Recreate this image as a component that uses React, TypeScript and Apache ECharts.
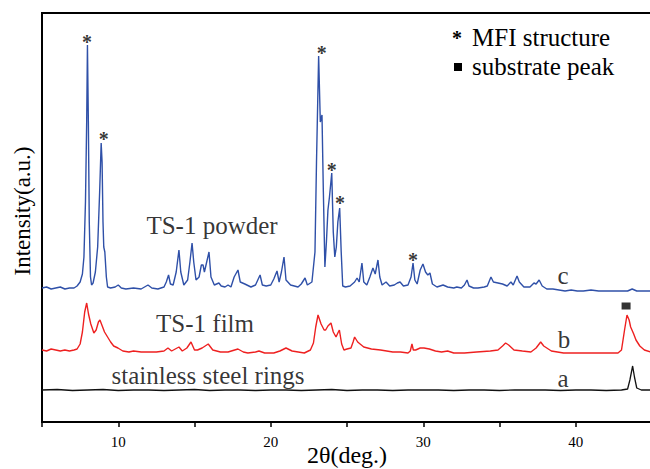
import React, { useEffect, useRef } from "react";
import * as echarts from "echarts";

const FONT = "'Liberation Serif', 'Times New Roman', serif";

// 2θ (deg.) and relative intensity (a.u., offset traces)
const powderC: [number, number][] = [
  [5.0,134],[5.3,135],[5.6,133],[5.9,134],[6.2,135],[6.5,133],[6.8,134],[7.1,134],[7.3,136],[7.5,140],[7.65,148],[7.75,165],[7.85,220],[7.93,300],[7.98,377],[8.04,300],[8.1,200],[8.18,145],[8.25,137],[8.35,139],[8.5,150],[8.65,175],[8.78,230],[8.88,279],[8.94,260],[9.0,200],[9.05,175],[9.12,170],[9.16,160],[9.22,145],[9.3,135],[9.5,134],[9.8,135],[10.0,137],[10.2,134],[10.5,133],[11.0,134],[11.5,133],[11.95,137],[12.2,134],[12.6,133],[13.0,135],[13.15,140],[13.3,147],[13.42,138],[13.6,137],[13.8,150],[13.98,172],[14.1,150],[14.3,137],[14.55,142],[14.7,160],[14.84,179],[14.95,160],[15.1,142],[15.3,145],[15.45,157],[15.56,157],[15.65,150],[15.8,160],[15.95,170],[16.08,145],[16.3,137],[16.6,139],[16.75,136],[17.0,135],[17.2,137],[17.39,135],[17.6,145],[17.85,152],[18.0,140],[18.3,138],[18.7,135],[19.0,137],[19.3,147],[19.45,137],[19.7,136],[20.0,137],[20.2,143],[20.41,151],[20.55,140],[20.7,150],[20.87,165],[21.0,142],[21.3,137],[21.79,135],[22.0,138],[22.25,144],[22.4,137],[22.7,140],[22.9,170],[23.0,260],[23.14,366],[23.25,300],[23.36,307],[23.45,230],[23.55,155],[23.65,180],[23.75,212],[23.85,225],[24.0,249],[24.1,190],[24.2,165],[24.3,175],[24.4,200],[24.52,214],[24.62,170],[24.72,136],[24.9,135],[25.2,136],[25.5,140],[25.66,144],[25.8,140],[25.98,159],[26.1,140],[26.3,137],[26.5,145],[26.7,154],[26.85,148],[27.03,162],[27.15,145],[27.3,137],[27.56,140],[27.8,136],[28.1,137],[28.3,139],[28.48,140],[28.7,136],[29.0,137],[29.2,145],[29.33,159],[29.45,142],[29.6,138],[29.8,152],[29.98,158],[30.15,150],[30.3,147],[30.44,149],[30.6,138],[30.9,135],[31.3,137],[31.6,135],[32.0,134],[32.2,135],[32.5,134],[32.7,137],[32.87,142],[33.0,136],[33.3,134],[33.59,134],[34.0,135],[34.2,136],[34.44,145],[34.6,140],[34.9,139],[35.2,138],[35.5,136],[35.75,140],[35.9,137],[36.15,146],[36.3,140],[36.6,135],[37.0,135],[37.26,139],[37.4,138],[37.6,142],[37.8,136],[38.1,133],[38.5,133],[38.9,132],[39.3,131],[39.7,132],[40.1,131],[40.5,131],[41.0,132],[41.5,131],[42.0,131],[42.5,131],[43.0,131],[43.4,131],[43.7,133],[44.0,131],[44.5,131],[45.0,131]
];

const filmB: [number, number][] = [
  [5.0,72],[5.3,71],[5.6,73],[5.9,72],[6.2,71],[6.5,72],[6.8,71],[7.1,72],[7.3,73],[7.5,78],[7.65,90],[7.8,110],[7.93,119],[8.05,108],[8.2,98],[8.4,89],[8.55,92],[8.7,100],[8.8,102],[8.95,96],[9.1,90],[9.3,85],[9.5,80],[9.7,76],[9.98,74],[10.3,71],[10.7,70],[11.0,71],[11.5,70],[12.0,70],[12.5,70],[13.0,71],[13.26,74],[13.5,71],[13.98,75],[14.2,71],[14.5,74],[14.77,80],[15.0,72],[15.2,72],[15.5,74],[15.9,78],[16.2,72],[16.7,70],[17.2,70],[17.85,73],[18.2,70],[18.5,69],[19.0,70],[19.23,71],[19.6,69],[20.2,69],[20.6,71],[21.0,74],[21.4,71],[21.8,70],[22.2,69],[22.6,72],[22.8,79],[22.95,95],[23.1,107],[23.3,98],[23.5,92],[23.6,92],[23.75,96],[23.95,99],[24.1,90],[24.28,85],[24.4,89],[24.5,92],[24.65,78],[24.8,72],[25.0,73],[25.26,74],[25.4,80],[25.5,85],[25.7,80],[26.1,75],[26.6,73],[27.2,72],[28.0,70],[28.5,70],[29.0,69],[29.15,71],[29.26,78],[29.35,72],[29.5,72],[29.8,74],[30.05,74],[30.4,73],[30.8,71],[31.2,70],[31.6,71],[32.0,69],[32.7,69],[33.5,70],[34.4,71],[34.9,72],[35.2,76],[35.4,79],[35.6,77],[35.95,72],[36.5,71],[37.06,70],[37.4,74],[37.7,80],[37.9,76],[38.4,71],[38.8,70],[39.2,69],[40.0,69],[41.0,69],[42.0,69],[42.77,69],[43.0,72],[43.2,92],[43.36,107],[43.5,102],[43.6,95],[43.8,88],[43.95,82],[44.2,76],[44.5,72],[44.9,70],[45.0,70]
];

const steelA: [number, number][] = [
  [5,32],[6,32.5],[7,31.5],[8,32],[9,32.5],[10,31.5],[11,32],[12,32],[13,31.5],[14,32],[15,32.5],[16,31.5],[17,32],[18,32],[19,31.5],[20,32],[21,32],[22,31.5],[23,32],[24,32.5],[25,31.5],[26,32],[27,32],[28,31.5],[29,32],[30,32],[31,32],[32,31.5],[33,32],[34,32],[35,31.5],[36,32],[37,32],[38,32],[39,31.5],[40,32],[41,32],[42,31.5],[43,32],[43.4,33],[43.55,42],[43.73,56],[43.85,45],[44.0,34],[44.3,32],[45,32]
];

// MFI reflections marked with asterisks
const mfiMarks: [number, number][] = [
  [7.95, 385], [9.05, 288], [23.34, 374], [24.0, 257], [24.54, 224], [29.33, 167]
];
// substrate peak marker
const substrateMarks: [number, number][] = [[43.3, 116]];

// trace labels
const traceLabels: { text: string; pos: [number, number] }[] = [
  { text: "TS-1 powder", pos: [16.15, 197] },
  { text: "TS-1 film", pos: [15.69, 99] },
  { text: "stainless steel rings", pos: [15.89, 47] },
  { text: "c", pos: [39.16, 147] },
  { text: "b", pos: [39.23, 83] },
  { text: "a", pos: [39.16, 44] },
];

const xTicks = [10, 20, 30, 40];

export default function App() {
  const ref = useRef<HTMLDivElement>(null);
  useEffect(() => {
    if (!ref.current) return;
    const chart = echarts.init(ref.current, null, { renderer: "svg" });
    const lineCommon = {
      type: "line" as const,
      showSymbol: false,
      symbol: "none",
      silent: true,
    };
    chart.setOption({
      animation: false,
      backgroundColor: "#fff",
      grid: {
        left: 42,
        top: 13,
        width: 610,
        height: 409,
        outerBoundsMode: "none",
        containLabel: false,
        show: true,
        borderColor: "#000",
        borderWidth: 2,
        backgroundColor: "transparent",
      },
      xAxis: {
        type: "value",
        min: 5,
        max: 45,
        interval: 5,
        name: "2θ(deg.)",
        nameLocation: "middle",
        nameGap: 21,
        nameMoveOverlap: false,
        nameTextStyle: { fontFamily: FONT, fontSize: 24, color: "#000" },
        axisLine: { show: true, lineStyle: { color: "#000", width: 2 } },
        axisTick: { show: true, length: 5, lineStyle: { color: "#000", width: 1.5 } },
        axisLabel: {
          margin: 12,
          fontFamily: FONT,
          fontSize: 15,
          color: "#000",
          formatter: (v: number) => (xTicks.includes(v) ? String(v) : ""),
        },
        splitLine: { show: false },
      },
      yAxis: {
        type: "value",
        min: 0,
        max: 409,
        axisLine: { show: true, lineStyle: { color: "#000", width: 2 } },
        axisTick: { show: false },
        axisLabel: { show: false },
        splitLine: { show: false },
      },
      graphic: [
        {
          type: "text",
          x: 22,
          y: 211,
          rotation: Math.PI / 2,
          style: {
            text: "Intensity(a.u.)",
            font: `23px ${FONT}`,
            fill: "#000",
            align: "center",
            verticalAlign: "middle",
          },
        },
        {
          type: "text",
          left: 452,
          top: 28,
          style: { text: "*", font: `bold 20px ${FONT}`, fill: "#000" },
        },
        {
          type: "text",
          left: 472,
          top: 25,
          style: { text: "MFI structure", font: `25px ${FONT}`, fill: "#000" },
        },
        {
          type: "rect",
          shape: { x: 454, y: 63, width: 8, height: 8 },
          style: { fill: "#000" },
        },
        {
          type: "text",
          left: 472,
          top: 54,
          style: { text: "substrate peak", font: `25px ${FONT}`, fill: "#000" },
        },
      ],
      series: [
        { ...lineCommon, name: "a", data: steelA, lineStyle: { color: "#111", width: 1.3 } },
        { ...lineCommon, name: "b", data: filmB, lineStyle: { color: "#ee2020", width: 1.4 } },
        { ...lineCommon, name: "c", data: powderC, lineStyle: { color: "#2f50a8", width: 1.4 } },
        {
          type: "scatter",
          name: "MFI structure",
          silent: true,
          data: mfiMarks,
          symbolSize: 1,
          itemStyle: { color: "transparent" },
          label: {
            show: true,
            position: "inside",
            formatter: "*",
            fontFamily: FONT,
            fontWeight: "bold",
            fontSize: 20,
            color: "#000",
            offset: [0, 5],
          },
        },
        {
          type: "scatter",
          name: "substrate peak",
          silent: true,
          data: substrateMarks,
          symbol: "rect",
          symbolSize: [9, 7],
          itemStyle: { color: "#000" },
        },
        {
          type: "scatter",
          name: "labels",
          silent: true,
          data: traceLabels.map((l) => ({ value: l.pos, name: l.text })),
          symbolSize: 1,
          itemStyle: { color: "transparent" },
          label: {
            show: true,
            position: "inside",
            formatter: (p: any) => p.name,
            fontFamily: FONT,
            fontSize: 25,
            color: "#000",
          },
        },
      ],
    });
    return () => chart.dispose();
  }, []);
  return <div ref={ref} style={{ width: 650, height: 469, position: "absolute", left: 0, top: 0 }} />;
}
